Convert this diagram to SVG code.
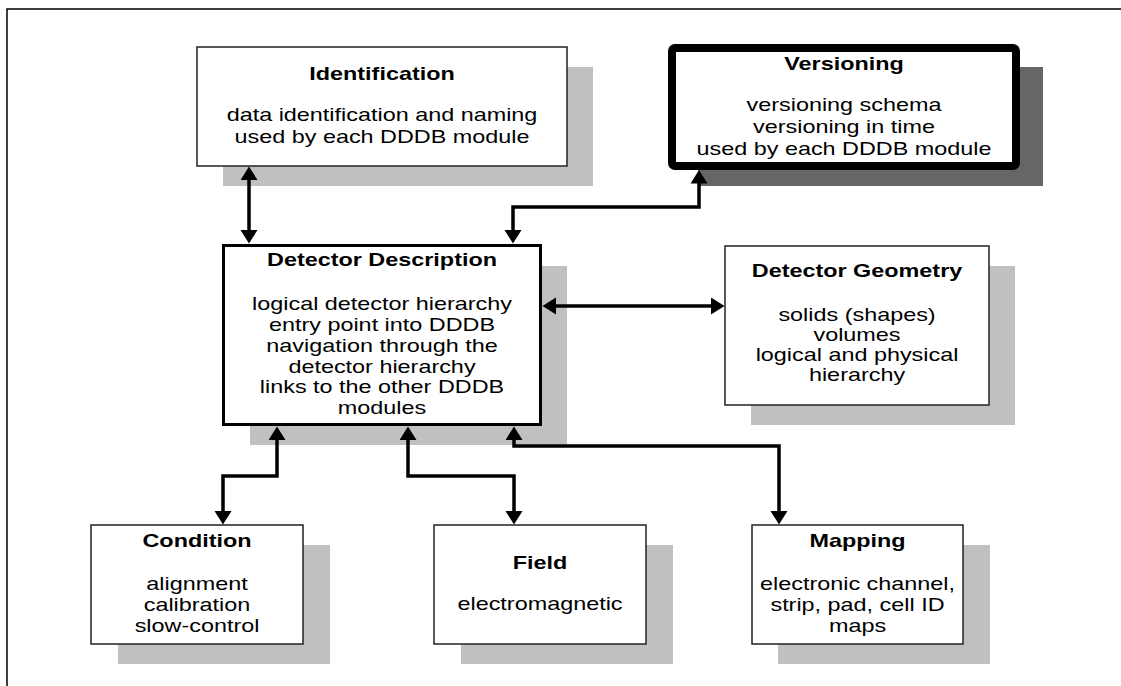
<svg xmlns="http://www.w3.org/2000/svg" width="1121" height="686" viewBox="0 0 1121 686">
<style>
.bg{fill:#ffffff}
.frame{fill:none;stroke:#000;stroke-width:1.5}
.box{fill:#fff;stroke:#222;stroke-width:1.5}
.box3{fill:#fff;stroke:#000;stroke-width:3}
.box8{fill:#fff;stroke:#000;stroke-width:8}
.sh{fill:#c0c0c0}
.shd{fill:#666666}
.conn{fill:none;stroke:#000;stroke-width:3.5;stroke-linejoin:miter}
text{font-family:"Liberation Sans",Arial,sans-serif;font-size:18px;fill:#000;text-anchor:middle}
.h{font-weight:bold}
</style>
<defs>
<marker id="arr" markerUnits="userSpaceOnUse" markerWidth="14" markerHeight="18" viewBox="0 0 14 18" refX="0.5" refY="8.5" orient="auto-start-reverse">
<path d="M0,0 L13.5,8.5 L0,17 z" fill="#000"/>
</marker>
</defs>
<rect class="bg" x="0" y="0" width="1121" height="686"/>
<path class="frame" d="M7,686 L7,9 L1121,9"/>

<g id="identification">
<rect class="sh" x="223" y="67" width="370" height="119"/>
<rect class="box" x="197" y="47" width="370" height="119"/>
<text transform="translate(382,0) scale(1.3,1)"><tspan class="h" x="0" y="80">Identification</tspan><tspan x="0" y="121.5">data identification and naming</tspan><tspan x="0" y="143">used by each DDDB module</tspan></text>
</g>

<g id="versioning">
<rect class="shd" x="698" y="67" width="345" height="119"/>
<rect class="box8" x="672" y="48" width="344" height="118" rx="3"/>
<text transform="translate(844,0) scale(1.3,1)"><tspan class="h" x="0" y="70">Versioning</tspan><tspan x="0" y="111.5">versioning schema</tspan><tspan x="0" y="133">versioning in time</tspan><tspan x="0" y="155">used by each DDDB module</tspan></text>
</g>

<g id="detector-description">
<rect class="sh" x="250" y="266" width="317" height="179"/>
<rect class="box3" x="223.5" y="245.5" width="317" height="179"/>
<text transform="translate(382,0) scale(1.3,1)"><tspan class="h" x="0" y="266.5">Detector Description</tspan><tspan x="0" y="310.5">logical detector hierarchy</tspan><tspan x="0" y="331.2">entry point into DDDB</tspan><tspan x="0" y="351.9">navigation through the</tspan><tspan x="0" y="372.6">detector hierarchy</tspan><tspan x="0" y="393.3">links to the other DDDB</tspan><tspan x="0" y="414">modules</tspan></text>
</g>

<g id="detector-geometry">
<rect class="sh" x="751" y="266" width="264" height="159"/>
<rect class="box" x="725" y="246" width="264" height="159"/>
<text transform="translate(857,0) scale(1.3,1)"><tspan class="h" x="0" y="277">Detector Geometry</tspan><tspan x="0" y="321.5">solids (shapes)</tspan><tspan x="0" y="341.2">volumes</tspan><tspan x="0" y="360.9">logical and physical</tspan><tspan x="0" y="380.6">hierarchy</tspan></text>
</g>

<g id="condition">
<rect class="sh" x="118" y="545" width="212" height="119"/>
<rect class="box" x="91" y="525" width="212" height="119"/>
<text transform="translate(197,0) scale(1.3,1)"><tspan class="h" x="0" y="547.5">Condition</tspan><tspan x="0" y="590">alignment</tspan><tspan x="0" y="611">calibration</tspan><tspan x="0" y="632">slow-control</tspan></text>
</g>

<g id="field">
<rect class="sh" x="461" y="545" width="212" height="119"/>
<rect class="box" x="434" y="525" width="212" height="119"/>
<text transform="translate(540,0) scale(1.3,1)"><tspan class="h" x="0" y="569">Field</tspan><tspan x="0" y="610.5">electromagnetic</tspan></text>
</g>

<g id="mapping">
<rect class="sh" x="778" y="545" width="212" height="119"/>
<rect class="box" x="752" y="525" width="211" height="119"/>
<text transform="translate(857.5,0) scale(1.3,1)"><tspan class="h" x="0" y="547.5">Mapping</tspan><tspan x="0" y="590">electronic channel,</tspan><tspan x="0" y="611">strip, pad, cell ID</tspan><tspan x="0" y="632">maps</tspan></text>
</g>

<g id="connectors">
<path class="conn" d="M249,179.5 L249,230.5" marker-start="url(#arr)" marker-end="url(#arr)"/>
<path class="conn" d="M513,230.5 L513,207 L699,207 L699,183" marker-start="url(#arr)" marker-end="url(#arr)"/>
<path class="conn" d="M555.5,306 L711.5,306" marker-start="url(#arr)" marker-end="url(#arr)"/>
<path class="conn" d="M277,439.5 L277,476 L223,476 L223,511.5" marker-start="url(#arr)" marker-end="url(#arr)"/>
<path class="conn" d="M408,439.5 L408,476 L514,476 L514,511.5" marker-start="url(#arr)" marker-end="url(#arr)"/>
<path class="conn" d="M514,439.5 L514,446 L779,446 L779,511.5" marker-start="url(#arr)" marker-end="url(#arr)"/>
</g>
</svg>
